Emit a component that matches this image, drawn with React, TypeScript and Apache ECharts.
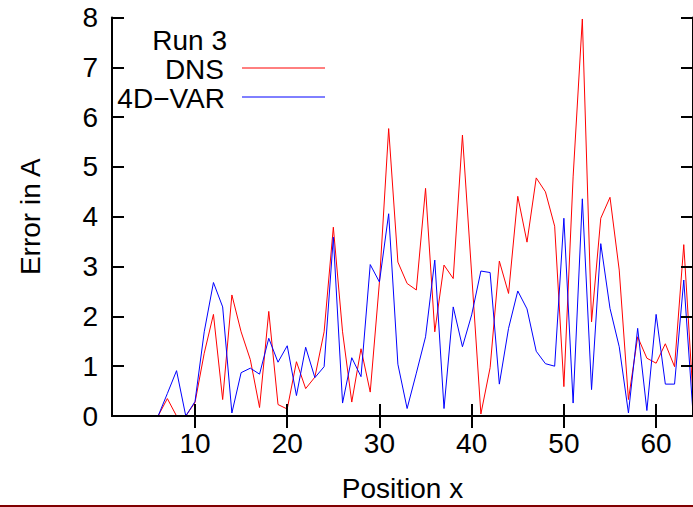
import React, { useEffect, useRef } from "react";
import * as echarts from "echarts";

const positions = [6, 7, 8, 9, 10, 11, 12, 13, 14, 15, 16, 17, 18, 19, 20, 21, 22, 23, 24, 25, 26, 27, 28, 29, 30, 31, 32, 33, 34, 35, 36, 37, 38, 39, 40, 41, 42, 43, 44, 45, 46, 47, 48, 49, 50, 51, 52, 53, 54, 55, 56, 57, 58, 59, 60, 61, 62, 63, 64];

const dnsValues = [0, 0.35, 0, 0, 0.27, 1.26, 2.04, 0.33, 2.43, 1.69, 1.13, 0.17, 2.1, 0.23, 0.14, 1.09, 0.55, 0.78, 1.69, 3.79, 1.69, 0.28, 1.35, 0.48, 2.69, 5.77, 3.09, 2.66, 2.53, 4.57, 1.69, 3.03, 2.76, 5.64, 2.85, 0.04, 0.97, 3.11, 2.46, 4.41, 3.49, 4.78, 4.5, 3.81, 0.59, 4.8, 7.97, 1.89, 3.97, 4.39, 2.93, 0.33, 1.59, 1.16, 1.06, 1.45, 0.99, 3.44, 0.4];

const varValues = [0, 0.45, 0.91, 0, 0.29, 1.69, 2.68, 2.19, 0.06, 0.87, 0.96, 0.84, 1.56, 1.08, 1.41, 0.41, 1.38, 0.77, 0.99, 3.59, 0.26, 1.17, 0.79, 3.04, 2.69, 4.06, 1.04, 0.15, 0.86, 1.59, 3.13, 0.15, 2.19, 1.39, 2.03, 2.91, 2.88, 0.64, 1.76, 2.51, 2.15, 1.3, 1.05, 1.0, 3.97, 0.26, 4.36, 0.53, 3.46, 2.16, 1.39, 0.06, 1.76, 0.11, 2.04, 0.64, 0.64, 2.73, 0.05];

const xTicks = [10, 20, 30, 40, 50, 60];
const seriesNames = ["DNS", "4D\u2212VAR"];
const legendTitle = "Run 3";

const FONT = '"Liberation Sans", Arial, Helvetica, sans-serif';

export default function App() {
  const ref = useRef<HTMLDivElement>(null);
  useEffect(() => {
    if (!ref.current) return;
    const chart = echarts.init(ref.current, undefined, { renderer: "svg" });
    const axisLine = { show: true, lineStyle: { color: "#000", width: 2 } };
    const tick = { inside: true, length: 12, lineStyle: { color: "#000", width: 2 } };
    const legendText = (text: string, x: number, y: number) => ({
      type: "text",
      z: 100,
      style: {
        text,
        x,
        y,
        align: "right",
        verticalAlign: "middle",
        fontSize: 28,
        lineHeight: 23,
        fontFamily: FONT,
        fill: "#000",
      },
    });
    chart.setOption({
      animation: false,
      backgroundColor: "#fff",
      grid: { left: 112, top: 17.5, right: -3.3, bottom: 89 },
      xAxis: [
        {
          type: "value",
          min: 1,
          max: 64,
          position: "bottom",
          z: 10,
          axisLine,
          axisTick: { ...tick, customValues: xTicks },
          axisLabel: {
            customValues: xTicks,
            color: "#000",
            fontSize: 28,
            fontFamily: FONT,
            margin: 13,
          },
          splitLine: { show: false },
          name: "Position x",
          nameLocation: "middle",
          nameGap: 58,
          nameTextStyle: { color: "#000", fontSize: 28, fontFamily: FONT },
        },
        {
          type: "value",
          min: 1,
          max: 64,
          position: "top",
          z: 10,
          axisLine,
          axisTick: { ...tick, customValues: xTicks },
          axisLabel: { show: false },
          splitLine: { show: false },
        },
      ],
      yAxis: [
        {
          type: "value",
          min: 0,
          max: 8,
          interval: 1,
          position: "left",
          z: 10,
          axisLine,
          axisTick: tick,
          axisLabel: { color: "#000", fontSize: 28, fontFamily: FONT, margin: 14 },
          splitLine: { show: false },
          name: "Error in A",
          nameLocation: "middle",
          nameRotate: 90,
          nameGap: 68,
          nameTextStyle: { color: "#000", fontSize: 28, fontFamily: FONT },
        },
        {
          type: "value",
          min: 0,
          max: 8,
          interval: 1,
          position: "right",
          z: 10,
          axisLine,
          axisTick: tick,
          axisLabel: { show: false },
          splitLine: { show: false },
        },
      ],
      series: [
        {
          name: seriesNames[0],
          type: "line",
          xAxisIndex: 0,
          yAxisIndex: 0,
          symbol: "none",
          lineStyle: { color: "#ff0000", width: 1 },
          itemStyle: { color: "#ff0000" },
          data: positions.map((x, i) => [x, dnsValues[i]]),
        },
        {
          name: seriesNames[1],
          type: "line",
          xAxisIndex: 0,
          yAxisIndex: 0,
          symbol: "none",
          lineStyle: { color: "#0000ff", width: 1 },
          itemStyle: { color: "#0000ff" },
          data: positions.map((x, i) => [x, varValues[i]]),
        },
      ],
      graphic: [
        legendText(legendTitle, 227, 40),
        legendText(seriesNames[0], 224, 69),
        legendText(seriesNames[1], 225, 98),
        {
          type: "line",
          z: 100,
          shape: { x1: 242, y1: 68, x2: 325, y2: 68 },
          style: { stroke: "#ff0000", lineWidth: 1 },
        },
        {
          type: "line",
          z: 100,
          shape: { x1: 242, y1: 97, x2: 325, y2: 97 },
          style: { stroke: "#0000ff", lineWidth: 1 },
        },
        {
          type: "line",
          z: 100,
          shape: { x1: 0, y1: 506, x2: 693, y2: 506 },
          style: { stroke: "#800000", lineWidth: 2 },
        },
      ],
    });
    return () => chart.dispose();
  }, []);
  return (
    <div
      ref={ref}
      style={{ position: "fixed", left: 0, top: 0, width: 693, height: 507 }}
    />
  );
}
